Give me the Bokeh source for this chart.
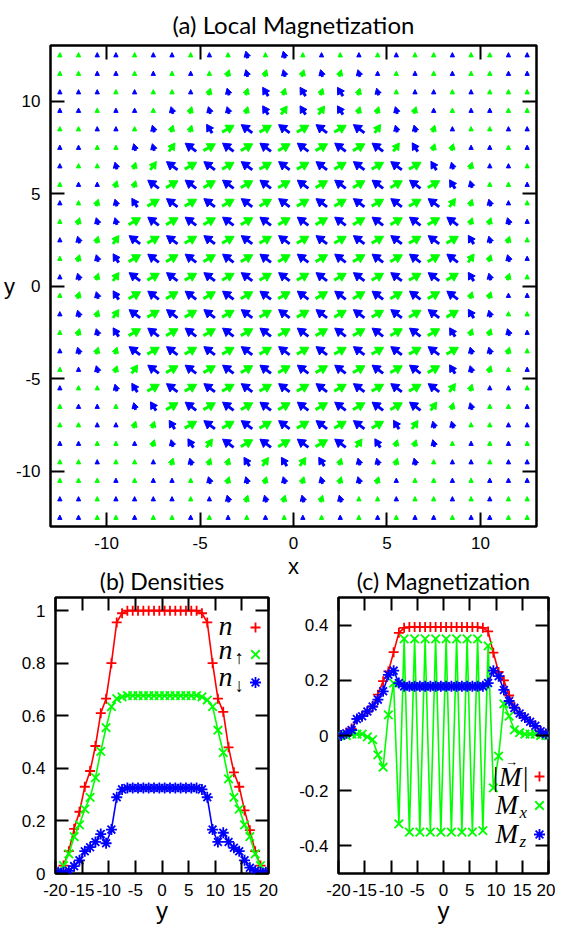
import math
from bokeh.plotting import figure
from bokeh.models import LinearAxis, FixedTicker, Label, ColumnDataSource
from bokeh.layouts import column, row
from bokeh.embed import file_html
from bokeh.resources import INLINE

GREEN = "#00ff00"
BLUE = "#0000ff"
RED = "#ff0000"

# ---------------- (a) local magnetization field ----------------
SITES = [-12.5, -11.5, -10.5, -9.5, -8.5, -7.5, -6.5, -5.5, -4.5, -3.5, -2.5, -1.5, -0.5,
         0.5, 1.5, 2.5, 3.5, 4.5, 5.5, 6.5, 7.5, 8.5, 9.5, 10.5, 11.5, 12.5]
# rows from top (y = 12.5) to bottom (y = -12.5); g = green (Mx > 0), b = blue (Mx < 0)
COLOR_ROWS = [
    "ggbbgbbgbgbgb" + "gbgbgbggbggbb",
    "ggbbgbgbggbgb" + "gbgbbgbgbggbb",
    "bbbgbggbgbgbg" + "bgbgbgbbgbggg",
    "bbgbbgbgbbgbg" + "bgbggbgbgbbgg",
    "ggbbgbggbgbgb" + "gbgbgbbgbggbb",
    "bbggbbgbgbgbg" + "bgbgbgbggbbgb",
    "bggbggbgbgbgb" + "gbgbgbgbbgbbg",
    "gbbggbgbgbgbg" + "bgbgbgbgbbggb",
    "bggbbgbgbgbgb" + "gbgbgbgbggbbg",
    "ggbbgbgbgbgbg" + "bgbgbgbgbggbb",
    "bbggbgbgbgbgb" + "gbgbgbgbgbbgg",
    "ggbbgbgbgbgbg" + "bgbgbgbgbggbb",
    "bbggbgbgbgbgb" + "gbgbgbgbgbbgg",
    "ggbbgbgbgbgbg" + "bgbgbgbgbggbb",
    "bbggbgbgbgbgb" + "gbgbgbgbgbbgg",
    "ggbbgbgbgbgbg" + "bgbgbgbgbggbb",
    "bbggbgbgbgbgb" + "gbgbgbgbgbbgg",
    "gbbggbgbgbgbg" + "bgbgbgbgbbggb",
    "bggbbgbgbgbgb" + "gbgbgbgbggbbg",
    "gbbgbbgbgbgbg" + "bgbgbgbggbggb",
    "ggbbggbgbgbgb" + "gbgbgbgbbggbb",
    "bbggbgbbgbgbg" + "bgbgbggbgbgbg",
    "ggbggbgbggbgb" + "gbgbbgbgbbgbb",
    "gggbgbbgbgbgb" + "gbgbgbggbgbbb",
    "bbgbbbbgbbgbg" + "bgbggbggbgbgg",
    "bbggbggbgbgbg" + "bgbgbgbbgbbgg",
]
# arrow magnitude class: 0 dot, 1 small, 2 medium, 3 full
SIZE_ROWS = [
    "0000000000101" + "0000000000000",
    "0000000001111" + "1111000000000",
    "0000000011121" + "2121100000000",
    "0000001111122" + "2221111000000",
    "0000011123333" + "3333211100000",
    "0000112333333" + "3333322110000",
    "0001123333333" + "3333333211000",
    "0001133333333" + "3333333321000",
    "0011233333333" + "3333333321100",
    "0111333333333" + "3333333331110",
    "0112333333333" + "3333333332110",
    "0112333333333" + "3333333332110",
    "0112333333333" + "3333333332110",
    "0112333333333" + "3333333331100",
    "0112333333333" + "3333333332100",
    "0112333333333" + "3333333321110",
    "0111333333333" + "3333333331110",
    "0011233333333" + "3333333321100",
    "0001233333333" + "3333333321000",
    "0000123333333" + "3333333211000",
    "0000112333333" + "3333322110000",
    "0000011223333" + "3332211100000",
    "0000001111222" + "2211111000000",
    "0000000011111" + "1111100000000",
    "0000000001111" + "1110000000000",
    "0000000000000" + "0000000000000",
]
A_TICKS = [-10, -5, 0, 5, 10]
A_LABELS = ["-10", "-5", "0", "5", "10"]

# ---------------- (b), (c) profiles along y ----------------
Y = [-19.5, -18.5, -17.5, -16.5, -15.5, -14.5, -13.5, -12.5, -11.5, -10.5,
     -9.5, -8.5, -7.5, -6.5, -5.5, -4.5, -3.5, -2.5, -1.5, -0.5,
     0.5, 1.5, 2.5, 3.5, 4.5, 5.5, 6.5, 7.5, 8.5, 9.5,
     10.5, 11.5, 12.5, 13.5, 14.5, 15.5, 16.5, 17.5, 18.5, 19.5]
N_TOTAL = [0.0, 0.03, 0.085, 0.17, 0.235, 0.33, 0.39, 0.485, 0.61, 0.665,
           0.80, 0.955, 0.99, 1.0, 1.0, 1.0, 1.0, 1.0, 1.0, 1.0,
           1.0, 1.0, 1.0, 1.0, 1.0, 1.0, 1.0, 0.99, 0.955, 0.80,
           0.665, 0.615, 0.48, 0.385, 0.33, 0.24, 0.165, 0.085, 0.03, 0.0]
N_UP = [0.0, 0.03, 0.075, 0.14, 0.185, 0.245, 0.29, 0.365, 0.465, 0.555,
        0.635, 0.665, 0.672, 0.677, 0.677, 0.677, 0.677, 0.677, 0.677, 0.677,
        0.677, 0.677, 0.677, 0.677, 0.677, 0.677, 0.677, 0.672, 0.66, 0.635,
        0.545, 0.46, 0.36, 0.29, 0.245, 0.185, 0.14, 0.075, 0.03, 0.0]
N_DOWN = [0.005, 0.005, 0.01, 0.028, 0.05, 0.085, 0.10, 0.12, 0.15, 0.115,
          0.167, 0.29, 0.32, 0.325, 0.325, 0.325, 0.325, 0.325, 0.325, 0.325,
          0.325, 0.325, 0.325, 0.325, 0.325, 0.325, 0.325, 0.32, 0.29, 0.167,
          0.12, 0.155, 0.12, 0.098, 0.085, 0.05, 0.022, 0.01, 0.005, 0.005]
M_ABS = [0.002, 0.01, 0.025, 0.06, 0.07, 0.087, 0.105, 0.148, 0.197, 0.232,
         0.302, 0.372, 0.39, 0.393, 0.393, 0.393, 0.393, 0.393, 0.393, 0.393,
         0.393, 0.393, 0.393, 0.393, 0.393, 0.393, 0.393, 0.39, 0.377, 0.30,
         0.23, 0.20, 0.145, 0.102, 0.08, 0.065, 0.05, 0.035, 0.015, 0.005]
M_X = [0.0, 0.0, 0.005, 0.005, 0.005, -0.005, -0.015, -0.07, -0.115, 0.075,
       0.19, -0.32, 0.35, -0.35, 0.35, -0.35, 0.35, -0.35, 0.35, -0.35,
       0.35, -0.35, 0.35, -0.35, 0.35, -0.35, 0.35, -0.345, 0.325, -0.19,
       -0.075, 0.115, 0.07, 0.02, 0.01, 0.005, 0.005, 0.005, 0.0, 0.0]
M_Z = [0.0, 0.008, 0.02, 0.06, 0.07, 0.087, 0.105, 0.13, 0.16, 0.22,
       0.235, 0.19, 0.178, 0.178, 0.178, 0.178, 0.178, 0.178, 0.178, 0.178,
       0.178, 0.178, 0.178, 0.178, 0.178, 0.178, 0.178, 0.178, 0.19, 0.235,
       0.215, 0.165, 0.125, 0.10, 0.08, 0.065, 0.05, 0.035, 0.015, 0.005]
BC_XTICKS = [-20, -15, -10, -5, 0, 5, 10, 15, 20]
BC_XLABELS = ["-20", "-15", "-10", "-5", "0", "5", "10", "15", "20"]
B_YTICKS = [0, 0.2, 0.4, 0.6, 0.8, 1.0]
B_YLABELS = ["0", "0.2", "0.4", "0.6", "0.8", "1"]
C_YTICKS = [-0.4, -0.2, 0, 0.2, 0.4]
C_YLABELS = ["-0.4", "-0.2", "0", "0.2", "0.4"]

# ---------------- styling helpers ----------------
TICK_FONT = "Liberation Sans"
TICK_SIZE = "17px"
TITLE_FONT = "Lato"
MATH_FONT = "Liberation Serif"


def mapper(left, top, w, h, x0, x1, y0, y1):
    def f(px, py):
        return x0 + (px - left) / w * (x1 - x0), y1 - (py - top) / h * (y1 - y0)
    return f


def style_axes(p, xticks, xlabels, yticks, ylabels, tick_len):
    for ax, ticks, labels in ((p.below[0], xticks, xlabels), (p.left[0], yticks, ylabels)):
        ax.ticker = FixedTicker(ticks=ticks, minor_ticks=[])
        ax.major_label_overrides = {t: s for t, s in zip(ticks, labels)}
        ax.major_tick_in = tick_len
        ax.major_tick_out = 0
        ax.minor_tick_in = 0
        ax.minor_tick_out = 0
        ax.axis_line_color = None
        ax.major_tick_line_width = 2
        ax.major_tick_line_color = "black"
        ax.major_label_text_font = TICK_FONT
        ax.major_label_text_font_size = TICK_SIZE
        ax.major_label_text_color = "black"
        ax.major_label_standoff = 10
        ax.axis_label_text_font = TICK_FONT
        ax.axis_label_text_font_style = "normal"
        ax.axis_label_text_color = "black"
    for loc, ticks in (("above", xticks), ("right", yticks)):
        ax = LinearAxis(ticker=FixedTicker(ticks=ticks, minor_ticks=[]),
                        major_tick_in=tick_len, major_tick_out=0,
                        minor_tick_in=0, minor_tick_out=0,
                        axis_line_color=None, major_tick_line_width=2,
                        major_label_text_color=None, major_label_text_font_size="1px",
                        major_label_standoff=0)
        p.add_layout(ax, loc)
    p.grid.visible = False
    p.outline_line_color = "black"
    p.outline_line_width = 2.5
    p.background_fill_color = "white"


def style_title(p, size, offset, standoff):
    p.title.text_font = TITLE_FONT
    p.title.text_font_size = size
    p.title.text_font_style = "normal"
    p.title.text_color = "black"
    p.title.align = "center"
    p.title.offset = offset
    p.title.standoff = standoff


def add_label(p, f, px, py, text, font, size, align="center", baseline="middle", style="normal"):
    x, y = f(px, py)
    p.add_layout(Label(x=x, y=y, text=text, text_font=font, text_font_size=size,
                       text_align=align, text_baseline=baseline, text_font_style=style,
                       text_color="black"))


# ---------------- figure (a) ----------------
pa = figure(width=555, height=586, x_range=(-13, 13), y_range=(-13, 13),
            output_backend="svg", toolbar_location=None, title="(a) Local Magnetization",
            min_border_left=45, min_border_right=19, min_border_top=35, min_border_bottom=60)
style_axes(pa, A_TICKS, A_LABELS, A_TICKS, A_LABELS, 14)
pa.border_fill_color = "white"
style_title(pa, "24px", -12, 14)
xa = pa.below[0]
xa.axis_label = "x"
xa.axis_label_text_font_size = "22px"
xa.axis_label_standoff = 2
ya = pa.left[0]
ya.axis_label = "y"
ya.axis_label_text_font_size = "22px"
ya.axis_label_standoff = -2
try:
    ya.axis_label_orientation = "horizontal"
except Exception:
    pass

# drawing style of each magnitude class (length, tilt above horizontal, head size)
CLASS_LEN = {0: 0.0, 1: 0.40, 2: 0.56, 3: 0.74}
ANG_GREEN = {0: 90.0, 1: 72.0, 2: 55.0, 3: 30.0}
ANG_BLUE = {0: 90.0, 1: 105.0, 2: 122.0, 3: 143.0}
HEAD_LEN = {0: 0.23, 1: 0.30, 2: 0.36, 3: 0.42}
HEAD_HALF = {0: 0.115, 1: 0.17, 2: 0.21, 3: 0.25}
SHAFT_W = 3.0

sx0, sy0, sx1, sy1, scol = [], [], [], [], []
hxs, hys, hcol = [], [], []
nrow = len(SITES)
for r in range(nrow):
    yc = SITES[nrow - 1 - r]
    for c in range(nrow):
        xc = SITES[c]
        k = int(SIZE_ROWS[r][c])
        green = COLOR_ROWS[r][c] == "g"
        col = GREEN if green else BLUE
        ang = ANG_GREEN[k] if green else ANG_BLUE[k]
        th = math.radians(ang)
        ux, uy = math.cos(th), math.sin(th)
        nx, ny = -uy, ux
        h, w = HEAD_LEN[k], HEAD_HALF[k]
        L = max(CLASS_LEN[k], h)
        tipx, tipy = xc + L / 2 * ux, yc + L / 2 * uy
        bx, by = tipx - h * ux, tipy - h * uy
        if CLASS_LEN[k] > h:
            sx0.append(xc - L / 2 * ux)
            sy0.append(yc - L / 2 * uy)
            sx1.append(bx + 0.08 * ux)
            sy1.append(by + 0.08 * uy)
            scol.append(col)
        hxs.append([tipx, bx + w * nx, bx - w * nx])
        hys.append([tipy, by + w * ny, by - w * ny])
        hcol.append(col)

pa.segment(x0="x0", y0="y0", x1="x1", y1="y1", line_color="c", line_width=SHAFT_W,
           source=ColumnDataSource(dict(x0=sx0, y0=sy0, x1=sx1, y1=sy1, c=scol)))
pa.patches(xs="xs", ys="ys", fill_color="c", line_color="c", line_width=1,
           source=ColumnDataSource(dict(xs=hxs, ys=hys, c=hcol)))

# ---------------- figure (b) ----------------
BC_H = 366
pb = figure(width=282, height=BC_H, x_range=(-20, 20), y_range=(0, 1.05),
            output_backend="svg", toolbar_location=None, title="(b) Densities",
            min_border_left=55, min_border_right=14, min_border_top=36, min_border_bottom=54)
style_axes(pb, BC_XTICKS, BC_XLABELS, B_YTICKS, B_YLABELS, 13)
pb.border_fill_color = None
style_title(pb, "23px", 1, 6)
pb.below[0].axis_label = "y"
pb.below[0].axis_label_text_font_size = "24px"
pb.below[0].axis_label_standoff = -2
fb = mapper(63, 605, 213, 276, -20, 20, 0, 1.05)

for vals, col, mk, sz in ((N_TOTAL, RED, "cross", 10), (N_UP, GREEN, "x", 12), (N_DOWN, BLUE, "asterisk", 11)):
    pb.line(Y, vals, line_color=col, line_width=1.6)
    pb.scatter(Y, vals, marker=mk, size=sz, line_color=col, line_width=1.8)

leg_b = [(635, RED, "cross", 10), (662, GREEN, "x", 12), (690, BLUE, "asterisk", 11)]
for py, col, mk, sz in leg_b:
    lx, ly = fb(263, py)
    pb.scatter([lx], [ly], marker=mk, size=sz, line_color=col, line_width=1.8)
add_label(pb, fb, 226, 633, "n", MATH_FONT, "28px", align="left", style="italic")
add_label(pb, fb, 226, 657, "n", MATH_FONT, "28px", align="left", style="italic")
add_label(pb, fb, 242, 665, "\u2191", MATH_FONT, "19px", align="left")
add_label(pb, fb, 226, 684, "n", MATH_FONT, "28px", align="left", style="italic")
add_label(pb, fb, 242, 693, "\u2193", MATH_FONT, "19px", align="left")

# ---------------- figure (c) ----------------
pc = figure(width=273, height=BC_H, x_range=(-20, 20), y_range=(-0.5, 0.5),
            output_backend="svg", toolbar_location=None, title="(c) Magnetization",
            min_border_left=56, min_border_right=7, min_border_top=36, min_border_bottom=54)
style_axes(pc, BC_XTICKS, BC_XLABELS, C_YTICKS, C_YLABELS, 13)
pc.border_fill_color = None
style_title(pc, "23px", -8, 6)
pc.below[0].axis_label = "y"
pc.below[0].axis_label_text_font_size = "24px"
pc.below[0].axis_label_standoff = -2
fc = mapper(346, 605, 210, 276, -20, 20, -0.5, 0.5)

for vals, col, mk, sz in ((M_ABS, RED, "cross", 10), (M_X, GREEN, "x", 12), (M_Z, BLUE, "asterisk", 11)):
    pc.line(Y, vals, line_color=col, line_width=1.6)
    pc.scatter(Y, vals, marker=mk, size=sz, line_color=col, line_width=1.8)

leg_c = [(784, RED, "cross", 10), (813, GREEN, "x", 12), (842, BLUE, "asterisk", 11)]
for py, col, mk, sz in leg_c:
    lx, ly = fc(547, py)
    pc.scatter([lx], [ly], marker=mk, size=sz, line_color=col, line_width=1.8)
add_label(pc, fc, 499, 784, "|M|", MATH_FONT, "27px", align="left", style="italic")
add_label(pc, fc, 519, 769, "\u2192", MATH_FONT, "13px")
add_label(pc, fc, 503, 812, "M", MATH_FONT, "27px", align="left", style="italic")
add_label(pc, fc, 527, 820, "x", MATH_FONT, "17px", align="left", style="italic")
add_label(pc, fc, 503, 841, "M", MATH_FONT, "27px", align="left", style="italic")
add_label(pc, fc, 527, 849, "z", MATH_FONT, "17px", align="left", style="italic")

# the lower row is pulled up so that its transparent top border overlaps
# the bottom border of (a), as in the reference where "x" sits beside the titles
layout = column(pa, row(pb, pc, margin=(-25, 0, 0, 0)))
with open("out.html", "w") as fh:
    fh.write(file_html(layout, INLINE))
